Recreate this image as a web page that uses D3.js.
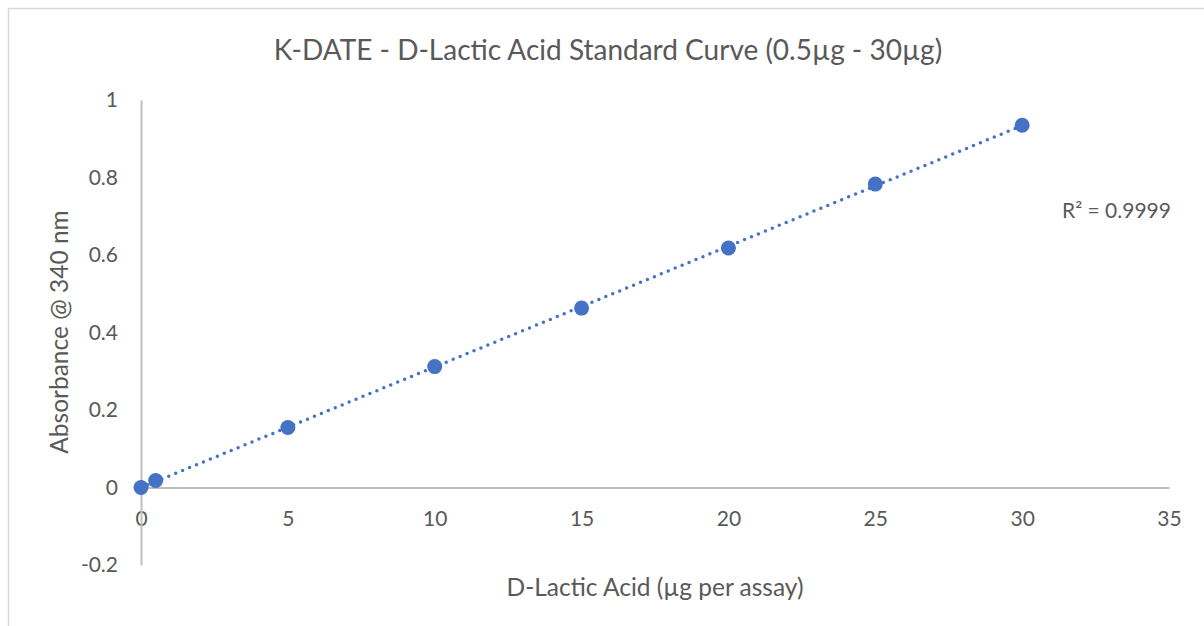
<!DOCTYPE html>
<html>
<head>
<meta charset="utf-8">
<script src="https://cdn.jsdelivr.net/npm/d3@7"></script>
<style>
  body { margin: 0; background: #fff; }
  text { font-family: Lato, "Open Sans", "Liberation Sans", sans-serif; fill: #595959; }
</style>
</head>
<body>
<div id="chart"></div>
<script>
// data
var amounts = [0, 0.5, 5, 10, 15, 20, 25, 30];
var absorbance = [0, 0.018, 0.155, 0.312, 0.463, 0.618, 0.783, 0.935];
var xTicks = [0, 5, 10, 15, 20, 25, 30, 35];
var yTicks = [-0.2, 0, 0.2, 0.4, 0.6, 0.8, 1];
var rSquaredLabel = "R\u00B2 = 0.9999";

var W = 1204, H = 626;
var svg = d3.select("#chart").append("svg")
    .attr("width", W)
    .attr("height", H);

// chart frame
svg.append("rect")
    .attr("x", 8.5).attr("y", 8.5)
    .attr("width", W + 20).attr("height", H + 20)
    .attr("fill", "none")
    .attr("stroke", "#d9d9d9")
    .attr("stroke-width", 1.5);

var xScale = d3.scaleLinear().domain([0, 35]).range([141, 1169]);
var yScale = d3.scaleLinear().domain([-0.2, 1]).range([565, 100]);

// axis lines (no tick marks)
var xAxis = d3.axisBottom(xScale).tickValues(xTicks).tickSize(0).tickPadding(24)
    .tickFormat(d3.format("d"));
var gx = svg.append("g")
    .attr("transform", "translate(0," + yScale(0) + ")")
    .call(xAxis);
gx.select(".domain").attr("stroke", "#bfbfbf").attr("stroke-width", 2);
gx.selectAll("text").style("font-size", "21px").attr("fill", "#595959");

var yAxis = d3.axisLeft(yScale).tickValues(yTicks).tickSize(0).tickPadding(23)
    .tickFormat(function(d) { return String(+d.toFixed(1)); });
var gy = svg.append("g")
    .attr("transform", "translate(" + xScale(0) + ",0)")
    .call(yAxis);
gy.select(".domain").attr("stroke", "#bfbfbf").attr("stroke-width", 2);
gy.selectAll("text").style("font-size", "21px").attr("fill", "#595959");

// linear trendline
var lr = linearRegression(amounts, absorbance);
var xmin = d3.min(amounts), xmax = d3.max(amounts);
svg.append("line")
    .attr("x1", xScale(xmin))
    .attr("y1", yScale(lr.intercept + lr.slope * xmin))
    .attr("x2", xScale(xmax))
    .attr("y2", yScale(lr.intercept + lr.slope * xmax))
    .attr("stroke", "#4472c4")
    .attr("stroke-width", 3.5)
    .attr("stroke-linecap", "round")
    .attr("stroke-dasharray", "0 7.5");

// points
svg.selectAll(".dot")
    .data(amounts)
    .enter().append("circle")
    .attr("class", "dot")
    .attr("cx", function(d) { return xScale(d); })
    .attr("cy", function(d, i) { return yScale(absorbance[i]); })
    .attr("r", 7.5)
    .attr("fill", "#4472c4");

// title
svg.append("text")
    .attr("x", 608).attr("y", 60)
    .attr("text-anchor", "middle")
    .style("font-size", "28px")
    .text("K-DATE - D-Lactic Acid Standard Curve (0.5\u00B5g - 30\u00B5g)");

// axis titles
svg.append("text")
    .attr("x", 655).attr("y", 596)
    .attr("text-anchor", "middle")
    .style("font-size", "24.5px")
    .text("D-Lactic Acid (\u00B5g per assay)");

svg.append("text")
    .attr("transform", "translate(68,332) rotate(-90)")
    .attr("text-anchor", "middle")
    .style("font-size", "24.5px")
    .text("Absorbance @ 340 nm");

// R squared label
svg.append("text")
    .attr("x", 1062).attr("y", 218)
    .style("font-size", "21px")
    .text(rSquaredLabel);

function linearRegression(x, y) {
    var n = y.length, sx = 0, sy = 0, sxy = 0, sxx = 0;
    for (var i = 0; i < n; i++) {
        sx += x[i]; sy += y[i];
        sxy += x[i] * y[i]; sxx += x[i] * x[i];
    }
    var slope = (n * sxy - sx * sy) / (n * sxx - sx * sx);
    return { slope: slope, intercept: (sy - slope * sx) / n };
}
</script>
</body>
</html>
